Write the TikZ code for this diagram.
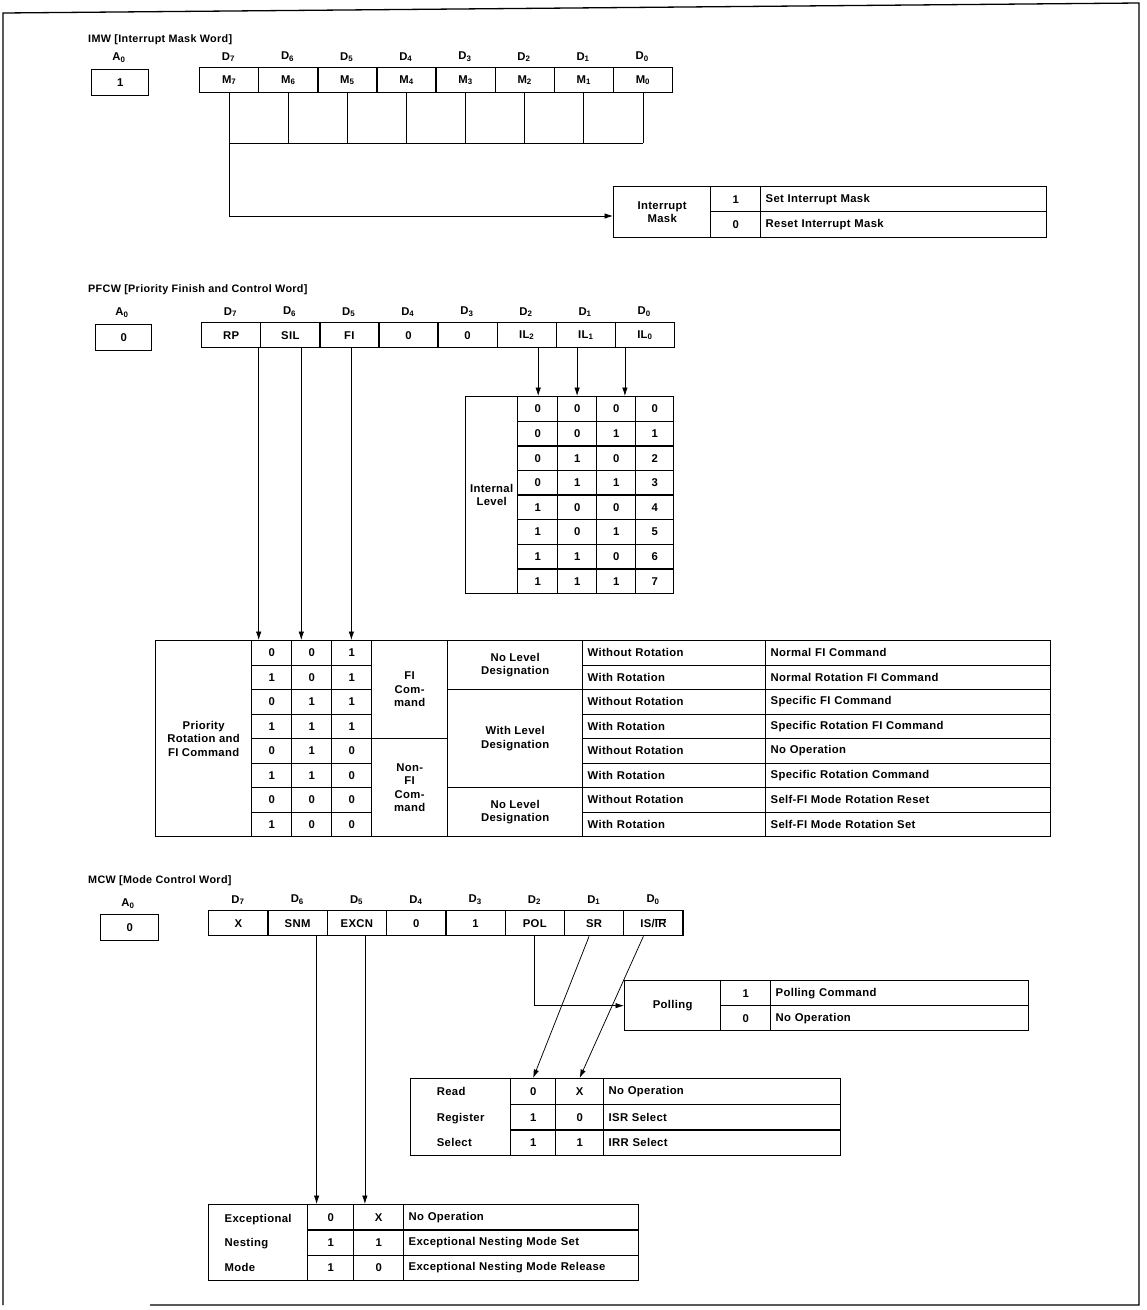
\documentclass[tikz,border=0pt]{standalone}
\usepackage{fontspec}
\setmainfont{Liberation Sans}[LetterSpace=3]
\usetikzlibrary{arrows.meta}
\tikzset{
  txt/.style={font=\bfseries\fontsize{11.3}{13.5}\selectfont, inner sep=0pt},
  tcell/.style={txt, draw, line width=1.3pt, anchor=north west, align=center},
  tlcell/.style={tcell, align=left, inner xsep=5pt, text width=#1},
  ttl/.style={txt, font=\bfseries\fontsize{10.8}{12}\selectfont, anchor=west},
  conn/.style={line width=0.75pt},
  arr/.style={conn, -{Latex[length=8.5pt,width=5.5pt]}},
  frame/.style={line width=1.3pt},
}
\begin{document}
\begin{tikzpicture}[x=1pt,y=-1pt]
\useasboundingbox (0,0) rectangle (1147,1310);
% outer frame
\draw[frame] (150,1305) -- (1139,1305) -- (1139,3) -- (3,13) -- (3,1305);

% ================= IMW =================
\node[ttl] (imwt) at (88,40) {IMW [Interrupt Mask Word]};
\node[txt] (imwal) at (119,58) {A\textsubscript{0}};
\node[tcell, minimum width=57, minimum height=26] (imwa) at (91,69) {1};
\foreach \i in {0,...,7}{
  \pgfmathtruncatemacro\b{7-\i}
  \node[txt] (imwd\b) at ({228.5+59.1*\i},57) {D\textsubscript{\b}};
  \node[tcell, minimum width=59.1, minimum height=25] (imw\b) at ({199+59.1*\i},67) {M\textsubscript{\b}};
}
\node[tcell, minimum width=97, minimum height=51] (imlab) at (613,186) {Interrupt\\Mask};
\node[tcell, minimum width=50, minimum height=25] (imv1) at (710,186) {1};
\node[tcell, minimum width=50, minimum height=26] (imv0) at (710,211) {0};
\node[tlcell=276, minimum height=25] (imd1) at (760,186) {Set Interrupt Mask};
\node[tlcell=276, minimum height=26] (imd0) at (760,211) {Reset Interrupt Mask};
\coordinate (imbus) at (0,143);
\coordinate (imin) at (613,216);
\foreach \b in {7,...,0}{
  \draw[conn] (imw\b.south) -- (imw\b.south |- imbus);
}
\draw[conn] (imw7.south |- imbus) -- (imw0.south |- imbus);
\draw[arr] (imw7.south |- imbus) |- (imin);

% ================= PFCW =================
\node[ttl] (pfwt) at (88,290) {PFCW [Priority Finish and Control Word]};
\node[txt] (pfal) at (122,313) {A\textsubscript{0}};
\node[tcell, minimum width=56, minimum height=26] (pfa) at (95,324) {0};
\foreach \t [count=\i from 0] in {RP,SIL,FI,0,0,IL\textsubscript{2},IL\textsubscript{1},IL\textsubscript{0}}{
  \pgfmathtruncatemacro\b{7-\i}
  \node[txt] (pfd\b) at ({230.5+59.1*\i},312) {D\textsubscript{\b}};
  \node[tcell, minimum width=59.1, minimum height=25] (pf\b) at ({201+59.1*\i},322) {\t};
}
% internal level table
\node[tcell, minimum width=52, minimum height=197] (lvlab) at (465,396) {Internal\\Level};
\foreach \a/\b/\c/\d [count=\r from 0] in {0/0/0/0,0/0/1/1,0/1/0/2,0/1/1/3,1/0/0/4,1/0/1/5,1/1/0/6,1/1/1/7}{
  \node[tcell, minimum width=40, minimum height=24.6] (lv\r-1) at (517,{396+24.6*\r}) {\a};
  \node[tcell, minimum width=39, minimum height=24.6] (lv\r-2) at (557,{396+24.6*\r}) {\b};
  \node[tcell, minimum width=39, minimum height=24.6] (lv\r-3) at (596,{396+24.6*\r}) {\c};
  \node[tcell, minimum width=38, minimum height=24.6] (lv\r-4) at (635,{396+24.6*\r}) {\d};
}
\draw[arr] ([xshift=11.5]pf2.south) -- ([xshift=11.5]pf2.south |- lv0-1.north);
\draw[arr] ([xshift=-8.7]pf1.south) -- ([xshift=-8.7]pf1.south |- lv0-1.north);
\draw[arr] ([xshift=-20]pf0.south) -- ([xshift=-20]pf0.south |- lv0-1.north);

% priority rotation table
\node[tcell, minimum width=96, minimum height=196] (prlab) at (155,640) {Priority\\Rotation and\\FI Command};
\foreach \a/\b/\c/\rot/\des [count=\r from 0] in {
  0/0/1/Without Rotation/Normal FI Command,
  1/0/1/With Rotation/Normal Rotation FI Command,
  0/1/1/Without Rotation/Specific FI Command,
  1/1/1/With Rotation/Specific Rotation FI Command,
  0/1/0/Without Rotation/No Operation,
  1/1/0/With Rotation/Specific Rotation Command,
  0/0/0/Without Rotation/Self-FI Mode Rotation Reset,
  1/0/0/With Rotation/Self-FI Mode Rotation Set}{
  \node[tcell, minimum width=40, minimum height=24.5] (pr\r-1) at (251,{640+24.5*\r}) {\a};
  \node[tcell, minimum width=40, minimum height=24.5] (pr\r-2) at (291,{640+24.5*\r}) {\b};
  \node[tcell, minimum width=40, minimum height=24.5] (pr\r-3) at (331,{640+24.5*\r}) {\c};
  \node[tlcell=173, minimum height=24.5] (pr\r-4) at (582,{640+24.5*\r}) {\rot};
  \node[tlcell=275, minimum height=24.5] (pr\r-5) at (765,{640+24.5*\r}) {\des};
}
\node[tcell, minimum width=76, minimum height=98] (prfi) at (371,640) {FI\\Com-\\mand};
\node[tcell, minimum width=76, minimum height=98] (prnfi) at (371,738) {Non-\\FI\\Com-\\mand};
\node[tcell, minimum width=135, minimum height=49] (prd1) at (447,640) {No Level\\Designation};
\node[tcell, minimum width=135, minimum height=98] (prd2) at (447,689) {With Level\\Designation};
\node[tcell, minimum width=135, minimum height=49] (prd3) at (447,787) {No Level\\Designation};
\draw[arr] ([xshift=27.5]pf7.south) -- ([xshift=27.5]pf7.south |- pr0-1.north);
\draw[arr] ([xshift=11]pf6.south) -- ([xshift=11]pf6.south |- pr0-1.north);
\draw[arr] ([xshift=2]pf5.south) -- ([xshift=2]pf5.south |- pr0-1.north);

% ================= MCW =================
\node[ttl] (mcwt) at (88,881) {MCW [Mode Control Word]};
\node[txt] (mcal) at (128,904) {A\textsubscript{0}};
\node[tcell, minimum width=58, minimum height=26] (mca) at (100,914) {0};
\foreach \t [count=\i from 0] in {X,SNM,EXCN,0,1,POL,SR,{IS/$\overline{\mbox{IR}}$}}{
  \pgfmathtruncatemacro\b{7-\i}
  \node[txt] (mcd\b) at ({238+59.3*\i},900) {D\textsubscript{\b}};
  \node[tcell, minimum width=59.3, minimum height=25] (mc\b) at ({208+59.3*\i},910) {\t};
}
% polling
\node[tcell, minimum width=96, minimum height=50] (poll) at (624,980) {Polling};
\node[tcell, minimum width=50, minimum height=25] (polv1) at (720,980) {1};
\node[tcell, minimum width=50, minimum height=25] (polv0) at (720,1005) {0};
\node[tlcell=248, minimum height=25] (pold1) at (770,980) {Polling Command};
\node[tlcell=248, minimum height=25] (pold0) at (770,1005) {No Operation};
% read register select
\node[tcell, minimum width=100, minimum height=77, align=left,
      font=\bfseries\fontsize{11.3}{25.5}\selectfont] (rrlab) at (410,1078) {Read\\Register\\Select};
\foreach \a/\b/\des [count=\r from 0] in {0/X/No Operation,1/0/ISR Select,1/1/IRR Select}{
  \node[tcell, minimum width=45, minimum height=25.67] (rr\r-1) at (510,{1078+25.67*\r}) {\a};
  \node[tcell, minimum width=48, minimum height=25.67] (rr\r-2) at (555,{1078+25.67*\r}) {\b};
  \node[tlcell=227, minimum height=25.67] (rr\r-3) at (603,{1078+25.67*\r}) {\des};
}
% exceptional nesting mode
\node[tcell, minimum width=99, minimum height=76, align=left,
      font=\bfseries\fontsize{11.3}{24.5}\selectfont] (enlab) at (208,1204) {Exceptional\\Nesting\\Mode};
\foreach \a/\b/\des [count=\r from 0] in {0/X/No Operation,1/1/Exceptional Nesting Mode Set,1/0/Exceptional Nesting Mode Release}{
  \node[tcell, minimum width=46, minimum height=25.33] (en\r-1) at (307,{1204+25.33*\r}) {\a};
  \node[tcell, minimum width=50, minimum height=25.33] (en\r-2) at (353,{1204+25.33*\r}) {\b};
  \node[tlcell=225, minimum height=25.33] (en\r-3) at (403,{1204+25.33*\r}) {\des};
}
% MCW connectors
\draw[arr] ([xshift=19]mc6.south) -- ([xshift=19]mc6.south |- en0-1.north);
\draw[arr] ([xshift=8]mc5.south) -- ([xshift=8]mc5.south |- en0-1.north);
\draw[arr] (mc2.south) |- (poll.west);
\draw[arr] ([xshift=-5]mc1.south) -- (rr0-1.north);
\draw[arr] ([xshift=-10]mc0.south) -- (rr0-2.north);
\end{tikzpicture}
\end{document}
